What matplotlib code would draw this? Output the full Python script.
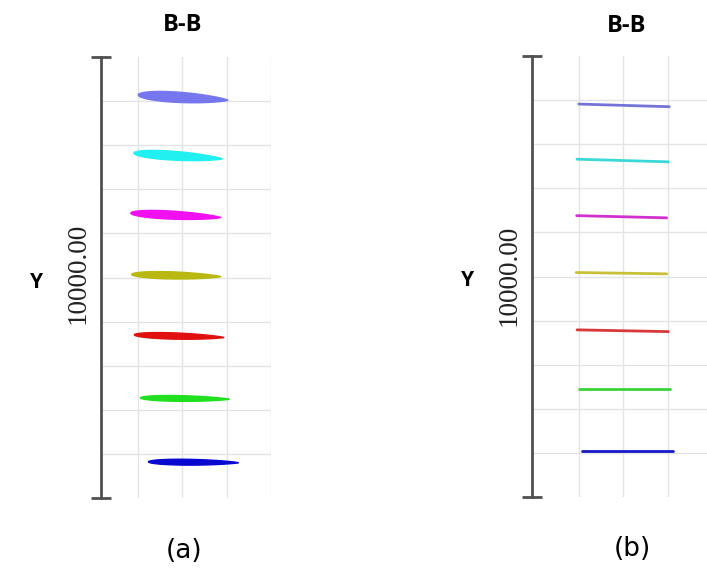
import numpy as np
import matplotlib.pyplot as plt

# blade sections B-B, stacked along the span (chord-plane coordinates)
section_names = ['s1', 's2', 's3', 's4', 's5', 's6', 's7']

# (a) full profiles: leading / trailing edge points and relative thickness
a_le_x = [1.00, 0.90, 0.83, 0.85, 0.91, 1.05, 1.23]
a_le_y = [9.14, 7.82, 6.46, 5.07, 3.70, 2.27, 0.82]
a_te_x = [3.03, 2.90, 2.87, 2.87, 2.94, 3.06, 3.27]
a_te_y = [9.02, 7.69, 6.36, 5.02, 3.64, 2.24, 0.80]
a_thick = [0.115, 0.10, 0.09, 0.08, 0.07, 0.065, 0.065]

# (b) chord lines only
b_le_x = [0.99, 0.95, 0.94, 0.93, 0.95, 1.00, 1.07]
b_le_y = [8.91, 7.66, 6.38, 5.09, 3.79, 2.44, 1.05]
b_te_x = [3.04, 3.02, 2.98, 2.98, 3.02, 3.06, 3.13]
b_te_y = [8.85, 7.60, 6.33, 5.06, 3.75, 2.44, 1.05]

colors_a = ['#7676ee', '#20f0f0', '#f010f0', '#b8b810', '#e01010', '#20e020', '#0808d0']
colors_b = ['#7474d8', '#3ad8d8', '#d030d0', '#c8c038', '#d83838', '#3ad23a', '#1818c8']

span_label = '10000.00'


def profile(x0, y0, x1, y1, t, n=120):
    """rounded teardrop outline placed between leading and trailing edge"""
    s = (1 - np.cos(np.linspace(0, np.pi, n))) / 2
    yt = np.sqrt(s) * (1 - s) ** 0.75
    yt = yt / yt.max() * t / 2
    c = np.hypot(x1 - x0, y1 - y0)
    ang = np.arctan2(y1 - y0, x1 - x0)
    px = np.concatenate([s, s[::-1]]) * c
    py = np.concatenate([yt, -yt[::-1]]) * c
    xs = x0 + px * np.cos(ang) - py * np.sin(ang)
    ys = y0 + px * np.sin(ang) + py * np.cos(ang)
    return xs, ys


def setup(ax, xmin):
    ax.set_xlim(xmin, 4.0)
    ax.set_ylim(0, 10)
    for s in ['top', 'right', 'bottom']:
        ax.spines[s].set_visible(False)
    ax.spines['left'].set_color('#505050')
    ax.spines['left'].set_linewidth(2)
    ax.set_xticks([])
    ax.set_yticks([0, 10])
    ax.set_yticklabels([])
    ax.set_yticks(range(11), minor=True)
    ax.set_xticks([1, 2, 3, 4], minor=True)
    ax.tick_params(axis='y', which='major', direction='inout', length=15,
                   width=2, color='#505050')
    ax.tick_params(which='minor', length=0)
    ax.grid(which='minor', color='#e4e4e4', lw=1)
    ax.set_axisbelow(True)


W, H = 707, 570
fig = plt.figure(figsize=(W / 100, H / 100), dpi=100)

ax_a = fig.add_axes([101 / W, 72 / H, 169.6 / W, 441 / H])
setup(ax_a, 0.154)
for i in range(len(section_names)):
    xs, ys = profile(a_le_x[i], a_le_y[i], a_te_x[i], a_te_y[i], a_thick[i])
    ax_a.fill(xs, ys, facecolor=colors_a[i], edgecolor=colors_a[i],
              lw=1.0, joinstyle='round', zorder=3)

ax_b = fig.add_axes([532.3 / W, 73 / H, 179.3 / W, 441 / H])
setup(ax_b, -0.066)
for i in range(len(section_names)):
    ax_b.plot([b_le_x[i], b_te_x[i]], [b_le_y[i], b_te_y[i]],
              color=colors_b[i], lw=2.0, solid_capstyle='round', zorder=3)

# annotations
bold = dict(family='Open Sans', weight='bold', ha='center', va='center')
fig.text(183 / W, 1 - 25 / H, 'B-B', fontsize=17, **bold)
fig.text(627 / W, 1 - 26 / H, 'B-B', fontsize=17, **bold)
fig.text(36 / W, 1 - 282 / H, 'Y', fontsize=15, **bold)
fig.text(467 / W, 1 - 281 / H, 'Y', fontsize=15, **bold)

num = dict(family='Liberation Serif', fontsize=19.5, rotation=90,
           ha='center', va='center', color='#222222')
fig.text(78 / W, 1 - 273 / H, span_label, **num)
fig.text(509 / W, 1 - 275 / H, span_label, **num)

cap = dict(family='DejaVu Sans', fontsize=19, ha='center', va='center')
fig.text(184 / W, 1 - 551 / H, '(a)', **cap)
fig.text(632 / W, 1 - 549 / H, '(b)', **cap)

plt.savefig('out.png', dpi=100)
